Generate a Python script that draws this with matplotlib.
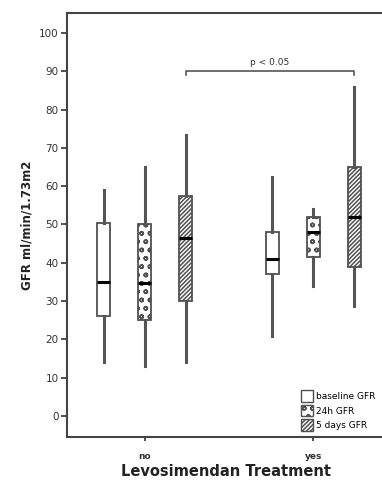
import matplotlib
matplotlib.use("Agg")
import matplotlib.pyplot as plt
from matplotlib.patches import Patch

groups = ["no", "yes"]
series = ["baseline GFR", "24h GFR", "5 days GFR"]
# per series, per group: (whislo, q1, med, q3, whishi)
baseline = [(14, 26, 35, 50.5, 59), (21, 37, 41, 48, 62.5)]
h24 = [(13, 25, 34.6, 50, 65), (33.8, 41.6, 48, 52, 54)]
days5 = [(14, 30, 46.4, 57.3, 73.4), (28.7, 38.8, 52, 65, 86)]
yticks = [0, 10, 20, 30, 40, 50, 60, 70, 80, 90, 100]
sig_text = "p < 0.05"
sig_y = 90

plt.rcParams['hatch.linewidth'] = 1.1
fig = plt.figure(figsize=(3.82, 4.86), dpi=100)
ax = fig.add_axes([67/382, 1-437/486, (386-67)/382, (437-13)/486])

hatches = ["", "oo", "////////"]
offsets = [-0.243, 0.0, 0.243]
data = [baseline, h24, days5]
for si, (sdata, off, hat) in enumerate(zip(data, offsets, hatches)):
    stats = []
    pos = []
    for gi, (lo, q1, med, q3, hi) in enumerate(sdata):
        stats.append(dict(whislo=lo, q1=q1, med=med, q3=q3, whishi=hi, fliers=[], label=""))
        pos.append(gi + off)
    ax.bxp(stats, positions=pos, widths=0.075, patch_artist=True, showcaps=False,
           boxprops=dict(facecolor="white", edgecolor="#505050", linewidth=1.3, hatch=hat),
           whiskerprops=dict(color="#555555", linewidth=2.2),
           medianprops=dict(color="black", linewidth=2.2),
           manage_ticks=False)

ax.set_xlim(-0.46, 1.43)
ax.set_ylim(-5.5, 105.2)
ax.set_yticks(yticks)
ax.set_xticks(range(len(groups)))
ax.set_xticklabels(groups, fontsize=6.5, fontweight="bold", color="#222222")
ax.tick_params(axis="y", labelsize=7.5, colors="#333333", length=4, width=1.2, pad=2)
ax.tick_params(axis="x", length=3, width=1.2, colors="#333333", pad=8)
for s in ax.spines.values():
    s.set_color("#444444")
    s.set_linewidth(1.5)

ax.set_ylabel("GFR ml/min/1.73m2", fontsize=8.5, fontweight="bold", color="#222222", labelpad=4)
ax.set_xlabel("Levosimendan Treatment", fontsize=10.5, fontweight="bold", color="#222222", labelpad=2)

# significance bracket
x1, x2 = 0 + offsets[2], 1 + offsets[2]
ax.plot([x1, x1, x2, x2], [sig_y - 1, sig_y, sig_y, sig_y - 1], color="#555555", lw=1.2)
ax.text((x1 + x2) / 2, sig_y + 1, sig_text, ha="center", va="bottom", fontsize=6.5, color="#333333")

handles = [Patch(facecolor="white", edgecolor="#505050", hatch=h, label=l) for h, l in zip(hatches, series)]
ax.legend(handles=handles, loc="lower right", bbox_to_anchor=(0.985, 0.0), fontsize=6.5,
          frameon=False, handlelength=1.3, handleheight=1.6, handletextpad=0.3, labelspacing=0.3,
          borderaxespad=0.3)

fig.savefig("out.png", dpi=100)
